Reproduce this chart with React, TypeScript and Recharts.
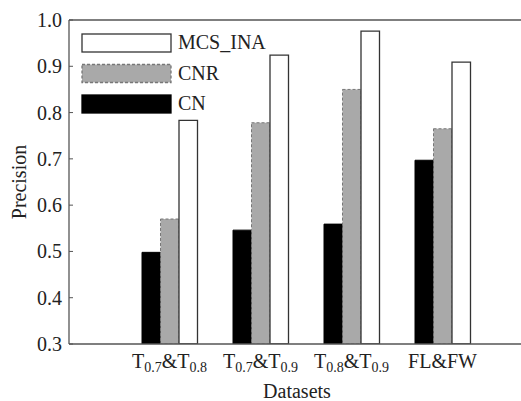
import React from 'react';
import { BarChart, Bar, XAxis, YAxis, ReferenceLine } from 'recharts';

const categories = ['T0.7&T0.8', 'T0.7&T0.9', 'T0.8&T0.9', 'FL&FW'];
const cnValues = [0.498, 0.546, 0.559, 0.697];
const cnrValues = [0.570, 0.778, 0.850, 0.765];
const mcsValues = [0.783, 0.924, 0.976, 0.909];
const yTicks = [0.3, 0.4, 0.5, 0.6, 0.7, 0.8, 0.9, 1.0];

const data = categories.map((c, i) => ({
  name: c,
  CN: cnValues[i],
  CNR: cnrValues[i],
  MCS_INA: mcsValues[i],
}));

const FONT = '"Liberation Serif", "Times New Roman", serif';
const AXIS = '#555';

const legendItems = [
  { name: 'MCS_INA', fill: '#ffffff', stroke: '#333', dash: undefined as string | undefined },
  { name: 'CNR', fill: '#a9a9a9', stroke: '#777', dash: '3 2' },
  { name: 'CN', fill: '#000000', stroke: '#000', dash: undefined as string | undefined },
];

const XTick = (props: any) => {
  const { x, y, payload } = props;
  const v: string = payload.value;
  const m = v.match(/^T(.+)&T(.+)$/);
  return (
    <g transform={`translate(${x},${y})`}>
      <text x={0} y={24} textAnchor="middle" fontFamily={FONT} fontSize={20} fill="#222">
        {m ? (
          <>
            <tspan>T</tspan>
            <tspan fontSize={14} dy={4}>{m[1]}</tspan>
            <tspan dy={-4}>&amp;T</tspan>
            <tspan fontSize={14} dy={4}>{m[2]}</tspan>
          </>
        ) : (
          v
        )}
      </text>
    </g>
  );
};

const YTick = (props: any) => {
  const { x, y, payload } = props;
  const axisX = x + 7;
  return (
    <g>
      <line x1={axisX} x2={axisX + 4} y1={y} y2={y} stroke={AXIS} strokeWidth={1} />
      <text x={x} y={y} dy={7} textAnchor="end" fontFamily={FONT} fontSize={20} fill="#222">
        {Number(payload.value).toFixed(1)}
      </text>
    </g>
  );
};

const LegendOverlay = () => (
  <svg width={300} height={100} style={{ position: 'absolute', left: 81, top: 33, display: 'block', overflow: 'visible' }}>
    {legendItems.map((it, i) => (
      <g key={it.name} transform={`translate(0, ${i * 30.5})`}>
        <rect x={1} y={1} width={89} height={18} fill={it.fill} stroke={it.stroke} strokeWidth={1.3} strokeDasharray={it.dash} />
        <text x={97} y={16} fontFamily={FONT} fontSize={20} fill="#222">{it.name}</text>
      </g>
    ))}
  </svg>
);

export default function App() {
  return (
    <div style={{ position: 'absolute', left: 0, top: 0, width: 521, height: 401, overflow: 'hidden', background: '#fff' }}>
      <BarChart
        width={525}
        height={401}
        data={data}
        margin={{ top: 20, right: 0, left: 0, bottom: 0 }}
        barGap={0}
        barSize={18.5}
      >
        <XAxis
          dataKey="name"
          height={57}
          padding={{ left: 55, right: 37 }}
          axisLine={{ stroke: AXIS, strokeWidth: 1.3 }}
          tickLine={false}
          tickSize={0}
          tickMargin={0}
          tick={<XTick />}
          interval={0}
          label={{ value: 'Datasets', position: 'insideBottom', offset: 3, fontFamily: FONT, fontSize: 20, fill: '#222' }}
        />
        <YAxis
          width={69}
          domain={[0.3, 1.0]}
          ticks={yTicks}
          allowDataOverflow
          axisLine={{ stroke: AXIS, strokeWidth: 1.3 }}
          tickLine={false}
          tickSize={4}
          tickMargin={3}
          tick={<YTick />}
          label={{
            content: (p: any) => {
              const vb = p.viewBox;
              const cx = vb.x + 19;
              const cy = vb.y + vb.height / 2;
              return (
                <text transform={`translate(${cx},${cy}) rotate(-90)`} textAnchor="middle" dominantBaseline="central" fontFamily={FONT} fontSize={20} fill="#222">
                  Precision
                </text>
              );
            },
          }}
        />
        <ReferenceLine y={1.0} stroke={AXIS} strokeWidth={1.3} />
        <Bar dataKey="CN" fill="#000" stroke="#000" isAnimationActive={false} />
        <Bar dataKey="CNR" fill="#a9a9a9" stroke="#777" strokeDasharray="3 2" strokeWidth={1} isAnimationActive={false} />
        <Bar dataKey="MCS_INA" fill="#fff" stroke="#333" strokeWidth={1.3} isAnimationActive={false} />
      </BarChart>
      <LegendOverlay />
    </div>
  );
}
